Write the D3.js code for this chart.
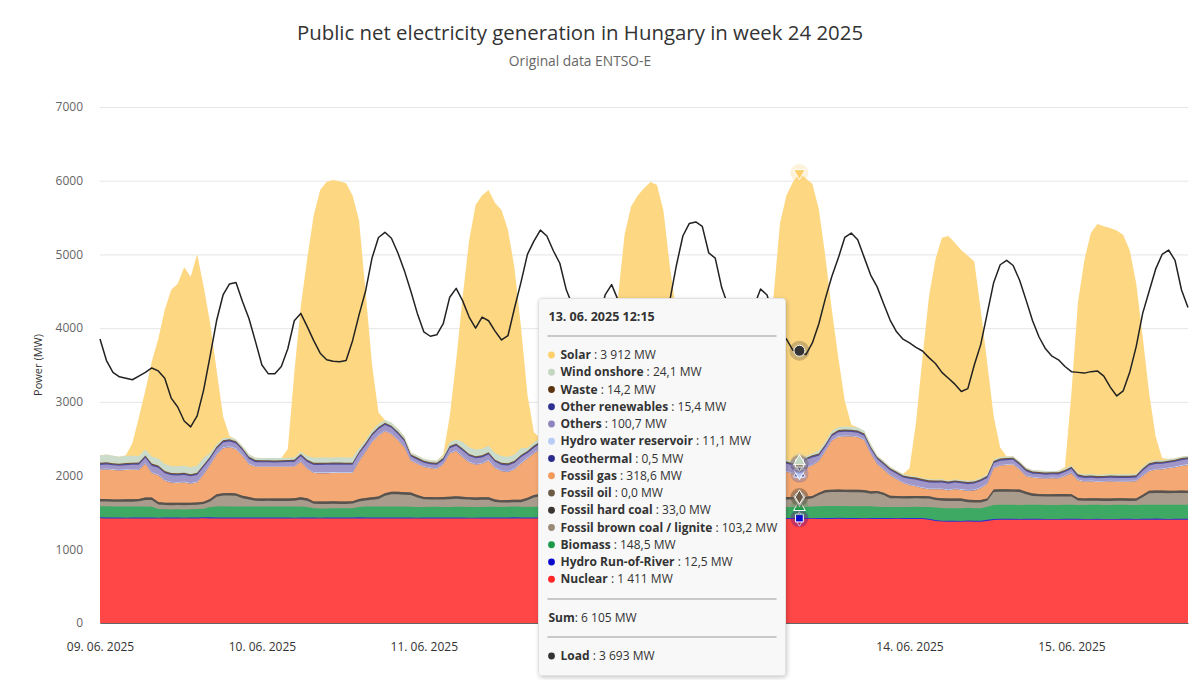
<!DOCTYPE html>
<html>
<head>
<meta charset="utf-8">
<script src="https://cdn.jsdelivr.net/npm/d3@7"></script>
<style>
  body { margin: 0; background: #fff; }
  svg text { font-family: "Open Sans", "DejaVu Sans", sans-serif; }
</style>
</head>
<body>
<div id="chart"></div>
<script>
// hourly values, 09.06.2025 00:00 .. 16.06.2025 00:00 (169 points), MW
var nuclear = [
  1420,1419,1418,1418,1417,1418,1419,1418,1417,1416,1418,1419,1418,1417,1418,1419,1420,1419,1418,1418,1417,1418,1419,1418,
  1418,1417,1418,1419,1418,1417,1416,1418,1419,1418,1417,1418,1419,1418,1417,1418,1419,1418,1417,1418,1419,1418,1417,1418,
  1418,1417,1418,1419,1418,1417,1418,1419,1418,1417,1416,1418,1419,1418,1417,1418,1419,1418,1417,1418,1418,1417,1416,1417,
  1416,1415,1416,1415,1414,1415,1416,1415,1414,1415,1416,1415,1414,1415,1416,1415,1414,1415,1416,1415,1414,1415,1414,1413,
  1413,1412,1413,1412,1411,1412,1413,1412,1411,1412,1412,1411,1411,1412,1413,1412,1411,1412,1413,1412,1411,1412,1413,1412,
  1412,1411,1412,1413,1412,1411,1412,1410,1400,1385,1376,1374,1375,1373,1376,1374,1375,1385,1398,1400,1401,1400,1399,1401,
  1400,1401,1400,1399,1400,1401,1402,1400,1399,1400,1401,1400,1399,1400,1401,1400,1399,1400,1401,1402,1400,1399,1400,1401,1400
];
var hydroRoR = [
  13,13,12,12,12,12,13,13,13,13,12,12,12,12,13,13,13,14,14,14,14,13,13,13,
  13,13,12,12,12,13,13,13,13,12,12,12,12,12,13,13,14,14,14,14,13,13,13,13,
  13,12,12,12,12,13,13,13,13,12,12,12,12,13,13,13,14,14,14,14,13,13,13,13,
  13,12,12,12,12,12,13,13,13,12,12,12,12,12,13,13,13,14,14,14,13,13,13,13,
  13,12,12,12,12,13,13,13,13,12,12,12,12.5,12,13,13,14,14,14,14,13,13,13,13,
  13,12,12,12,12,13,13,13,13,12,12,12,12,12,13,13,13,14,14,14,13,13,13,13,
  13,12,12,12,12,12,13,13,13,12,12,12,12,12,13,13,13,14,14,14,14,13,13,13,13
];
var biomass = [
  150,151,150,149,150,151,150,149,148,118,112,110,112,111,112,113,118,140,150,151,150,149,150,151,
  150,151,150,149,150,150,151,150,140,126,125,124,125,126,125,126,140,150,151,150,149,150,151,150,
  146,145,144,145,146,145,144,145,146,145,144,145,146,145,144,145,146,145,144,145,146,145,144,145,
  145,146,145,144,145,146,145,144,145,146,145,144,145,146,145,144,145,146,145,144,145,146,145,144,
  160,161,160,159,160,161,160,158,152,150,149,149,148.5,150,155,160,161,160,159,160,161,160,159,160,
  152,150,151,150,149,150,151,150,160,170,171,170,169,170,171,170,169,178,188,190,191,190,189,190,
  190,191,190,189,190,191,190,189,190,191,190,189,190,191,190,189,190,191,190,189,190,191,190,189,190
];
var brownCoal = [
  65,65,64,65,66,65,68,90,92,62,58,57,58,58,57,58,62,75,130,145,148,145,110,95,
  76,75,77,76,74,76,78,92,86,61,60,62,61,60,61,63,76,80,90,100,146,167,167,160,
  160,130,105,100,98,100,105,108,103,100,98,97,95,65,60,58,60,62,90,125,141,150,148,140,
  130,110,100,98,97,100,105,108,102,98,96,95,95,94,96,100,120,150,170,180,182,178,165,150,
  140,120,105,100,100,102,110,112,106,104,104,103,103.2,105,110,150,186,190,191,190,189,188,186,170,
  182,162,118,116,115,114,115,116,115,100,101,100,99,100,78,79,78,80,177,178,177,176,177,144,
  120,114,113,115,114,113,110,60,55,56,55,54,55,56,55,54,55,100,155,159,160,158,159,160,159
];
var hardCoal = [
  33,33,32,33,34,33,33,33,32,33,33,34,33,33,32,33,33,34,33,33,33,32,33,33,
  33,32,33,33,34,33,33,33,33,32,33,33,34,33,33,32,33,33,34,33,33,33,32,33,
  33,33,32,33,33,34,33,33,32,33,33,33,34,33,32,33,33,33,34,33,33,32,33,33,
  33,33,33,32,33,34,33,33,33,32,33,33,33,34,33,32,33,33,33,34,33,33,32,33,
  33,32,33,33,33,34,33,33,32,33,33,33,33.0,34,33,32,33,33,34,33,33,33,32,33,
  33,33,32,33,33,34,33,33,33,32,33,33,34,33,33,32,33,33,34,33,33,32,33,33,
  33,33,32,33,34,33,33,33,32,33,33,34,33,33,32,33,33,34,33,33,33,32,33,33,33
];
var fossilOil = [
  0,0,0,0,0,0,0,0,0,0,0,0,0,0,0,0,0,0,0,0,0,0,0,0,
  0,0,0,0,0,0,0,0,0,0,0,0,0,0,0,0,0,0,0,0,0,0,0,0,
  0,0,0,0,0,0,0,0,0,0,0,0,0,0,0,0,0,0,0,0,0,0,0,0,
  0,0,0,0,0,0,0,0,0,0,0,0,0,0,0,0,0,0,0,0,0,0,0,0,
  0,0,0,0,0,0,0,0,0,0,0,0,0,0,0,0,0,0,0,0,0,0,0,0,
  0,0,0,0,0,0,0,0,0,0,0,0,0,0,0,0,0,0,0,0,0,0,0,0,
  0,0,0,0,0,0,0,0,0,0,0,0,0,0,0,0,0,0,0,0,0,0,0,0,0
];
var fossilGas = [
  397,402,398,391,396,399,394,456,329,362,296,272,266,276,257,271,370,461,536,611,623,601,541,441,
  430,431,429,430,432,430,428,483,400,385,386,384,385,386,385,383,510,626,746,826,840,779,699,606,
  431,421,406,391,383,441,586,613,538,471,443,454,496,426,391,383,411,489,531,566,610,661,673,631,
  594,534,474,426,407,444,569,596,522,446,398,379,369,380,398,454,554,664,724,744,732,676,589,494,
  442,412,397,382,392,430,552,570,506,408,338,319,318.6,387,412,432,525,662,712,722,722,714,677,512,
  360,310,277,227,177,147,127,107,92,114,121,109,124,117,121,131,161,195,287,317,327,337,267,210,
  213,213,210,215,210,240,285,239,226,228,222,226,230,224,226,228,232,254,265,281,285,305,315,335,349
];
var geothermal = [
  0.5,0.5,0.5,0.5,0.5,0.5,0.5,0.5,0.5,0.5,0.5,0.5,0.5,0.5,0.5,0.5,0.5,0.5,0.5,0.5,0.5,0.5,0.5,0.5,
  0.5,0.5,0.5,0.5,0.5,0.5,0.5,0.5,0.5,0.5,0.5,0.5,0.5,0.5,0.5,0.5,0.5,0.5,0.5,0.5,0.5,0.5,0.5,0.5,
  0.5,0.5,0.5,0.5,0.5,0.5,0.5,0.5,0.5,0.5,0.5,0.5,0.5,0.5,0.5,0.5,0.5,0.5,0.5,0.5,0.5,0.5,0.5,0.5,
  0.5,0.5,0.5,0.5,0.5,0.5,0.5,0.5,0.5,0.5,0.5,0.5,0.5,0.5,0.5,0.5,0.5,0.5,0.5,0.5,0.5,0.5,0.5,0.5,
  0.5,0.5,0.5,0.5,0.5,0.5,0.5,0.5,0.5,0.5,0.5,0.5,0.5,0.5,0.5,0.5,0.5,0.5,0.5,0.5,0.5,0.5,0.5,0.5,
  0.5,0.5,0.5,0.5,0.5,0.5,0.5,0.5,0.5,0.5,0.5,0.5,0.5,0.5,0.5,0.5,0.5,0.5,0.5,0.5,0.5,0.5,0.5,0.5,
  0.5,0.5,0.5,0.5,0.5,0.5,0.5,0.5,0.5,0.5,0.5,0.5,0.5,0.5,0.5,0.5,0.5,0.5,0.5,0.5,0.5,0.5,0.5,0.5,0.5
];
var hydroReservoir = [
  11,11,10,10,10,11,11,12,12,11,11,11,11,11,11,11,12,12,13,13,12,11,11,11,
  11,10,10,10,10,11,11,12,12,11,11,11,11,11,11,11,12,12,13,13,12,11,11,11,
  11,10,10,10,10,11,11,12,12,11,11,11,11,11,11,11,12,12,13,13,12,11,11,11,
  11,10,10,10,10,11,11,12,12,11,11,11,11,11,11,11,12,12,13,13,12,11,11,11,
  11,10,10,10,10,11,11,12,12,11,11,11,11.1,11,11,11,12,12,13,13,12,11,11,11,
  11,10,10,10,10,11,11,11,11,11,11,11,11,11,11,11,12,12,12,12,12,11,11,11,
  11,10,10,10,10,11,11,11,11,11,11,11,11,11,11,11,12,12,12,12,12,11,11,11,11
];
var others = [
  55,56,55,54,55,56,58,70,88,90,91,90,92,90,89,90,88,70,65,64,65,66,65,64,
  50,51,50,49,50,52,55,60,80,98,100,101,100,102,100,99,90,76,75,74,75,76,75,74,
  45,46,45,44,45,48,60,62,74,75,76,75,74,75,76,75,74,75,60,61,60,59,60,61,
  50,51,50,49,50,52,65,66,80,81,80,79,80,81,80,79,78,60,61,60,59,60,61,60,
  55,56,55,54,55,56,70,72,98,100,101,100,100.7,99,98,60,50,51,50,49,50,51,50,52,
  60,61,60,62,65,75,80,81,80,79,80,81,80,79,80,81,80,70,55,56,55,54,55,56,
  45,46,45,44,45,46,45,40,41,40,39,40,41,40,39,40,41,60,65,66,65,64,65,66,65
];
var otherRenewables = [
  15,15,15,15,15,15,16,16,16,16,15,15,15,15,15,15,16,16,16,16,15,15,15,15,
  15,15,14,14,15,15,16,16,16,15,15,15,15,15,15,15,16,16,16,16,15,15,15,15,
  15,15,14,14,15,15,16,16,16,15,15,15,15,15,15,15,16,16,16,16,15,15,15,15,
  15,15,14,14,15,15,16,16,16,15,15,15,15,15,15,15,16,16,16,16,15,15,15,15,
  15,15,14,14,15,15,16,16,16,15,15,15,15.4,15,15,15,16,16,16,16,15,15,15,15,
  15,15,14,14,15,15,16,16,16,15,15,15,15,15,15,15,16,16,16,16,15,15,15,15,
  15,15,14,14,15,15,16,16,16,15,15,15,15,15,15,15,16,16,16,16,15,15,15,15,15
];
var waste = [
  14,14,14,14,14,14,14,15,15,14,14,14,14,14,14,14,14,15,15,15,14,14,14,14,
  14,14,14,13,14,14,14,15,15,14,14,14,14,14,14,14,14,15,15,15,14,14,14,14,
  14,14,14,13,14,14,14,15,15,14,14,14,14,14,14,14,14,15,15,15,14,14,14,14,
  14,14,14,13,14,14,14,15,15,14,14,14,14,14,14,14,14,15,15,15,14,14,14,14,
  14,14,14,13,14,14,14,15,15,14,14,14,14.2,14,14,14,14,15,15,15,14,14,14,14,
  14,14,14,13,14,14,14,15,15,14,14,14,14,14,14,14,14,15,15,15,14,14,14,14,
  14,14,14,13,14,14,14,15,15,14,14,14,14,14,14,14,14,15,15,15,14,14,14,14,14
];
var windOnshore = [
  100,105,100,95,100,95,90,80,95,95,95,95,95,95,95,95,95,50,30,25,25,25,30,35,
  30,28,30,32,30,30,30,30,50,70,72,70,68,70,72,70,45,40,41,40,39,40,41,40,
  27,28,27,26,27,28,50,52,88,90,92,90,88,90,92,90,88,90,40,41,40,39,40,41,
  30,31,30,29,30,31,45,46,60,61,60,59,60,61,60,59,60,35,36,35,34,35,36,35,
  30,31,30,29,30,31,35,36,26,25,24,25,24.1,25,26,40,41,40,39,40,41,40,39,40,
  20,21,20,19,18,15,16,15,14,15,16,15,14,15,16,15,14,18,20,21,20,19,20,21,
  20,21,20,19,20,21,20,19,20,21,20,19,20,21,20,19,20,21,20,19,20,21,20,19,20
];
var solar = [
  0,0,0,0,5,170,520,800,1290,1625,2095,2390,2475,2695,2585,2870,2327,1765,1015,300,20,0,0,0,
  0,0,0,0,0,120,1150,1971,2680,3290,3628,3741,3765,3745,3720,3555,3095,2025,895,155,0,0,0,0,
  0,0,0,0,0,20,350,1074,1972,2810,3315,3440,3470,3392,3338,3077,2530,1654,725,140,0,0,0,0,
  0,0,0,0,0,20,350,1070,2017,2934,3370,3540,3650,3720,3660,3260,2374,1645,665,35,0,0,0,0,
  0,0,0,0,0,20,350,1070,2041,3140,3590,3791,3912,3767,3660,3272,2510,1645,945,350,30,0,0,0,
  0,0,0,0,0,100,727,1630,2477,2984,3276,3315,3210,3117,3054,2967,2281,1512,584,129,0,0,0,0,
  0,0,0,0,0,20,980,2310,2906,3270,3400,3368,3337,3306,3247,3040,2585,1768,930,325,30,0,0,0,0
];
var load = [
  3853,3560,3400,3340,3320,3300,3350,3400,3460,3420,3320,3050,2930,2740,2660,2810,3160,3620,4100,4450,4600,4620,4360,4130,
  3820,3500,3380,3380,3480,3720,4100,4200,4020,3830,3660,3570,3550,3545,3560,3830,4180,4500,4950,5230,5300,5220,5020,4780,
  4500,4200,3950,3890,3910,4060,4420,4540,4370,4150,4000,4150,4100,3960,3840,3900,4270,4620,5000,5180,5330,5250,5050,4880,
  4520,4300,4150,4000,3950,4100,4450,4590,4380,4200,4050,3950,3850,3800,3850,4050,4380,4850,5250,5420,5440,5380,5020,4950,
  4550,4300,4100,4000,4050,4300,4530,4450,4150,3950,3850,3700,3693,3640,3800,4060,4400,4700,4950,5230,5290,5200,4960,4720,
  4560,4330,4110,3950,3850,3800,3740,3690,3600,3520,3400,3320,3240,3140,3180,3500,3780,4200,4620,4860,4920,4850,4650,4380,
  4100,3880,3720,3620,3570,3480,3410,3400,3390,3410,3420,3350,3200,3080,3150,3400,3750,4200,4500,4800,5000,5060,4920,4517,4280
];

var tickHours = [0, 25, 50, 75, 100, 125, 150];
var tickLabels = ["09. 06. 2025", "10. 06. 2025", "11. 06. 2025", "12. 06. 2025", "13. 06. 2025", "14. 06. 2025", "15. 06. 2025"];
var yTicks = [0, 1000, 2000, 3000, 4000, 5000, 6000, 7000];
var tooltipHour = 108;
var tooltipTime = "13. 06. 2025 12:15";

var series = [
  {key: "nuclear",         name: "Nuclear",                       color: "#ff2626", values: nuclear,         symbol: "diamond"},
  {key: "hydroRoR",        name: "Hydro Run-of-River",            color: "#0a0acc", values: hydroRoR,        symbol: "square"},
  {key: "biomass",         name: "Biomass",                       color: "#1c9a48", values: biomass,         symbol: "triangle"},
  {key: "brownCoal",       name: "Fossil brown coal / lignite",   color: "#9a8a78", values: brownCoal,       symbol: "triangle-down"},
  {key: "hardCoal",        name: "Fossil hard coal",              color: "#3a3530", values: hardCoal,        symbol: "circle"},
  {key: "fossilOil",       name: "Fossil oil",                    color: "#6b5b45", values: fossilOil,       symbol: "diamond"},
  {key: "fossilGas",       name: "Fossil gas",                    color: "#f29a5c", values: fossilGas,       symbol: "square"},
  {key: "geothermal",      name: "Geothermal",                    color: "#2b2b8c", values: geothermal,      symbol: "triangle"},
  {key: "hydroReservoir",  name: "Hydro water reservoir",         color: "#b8ccf4", values: hydroReservoir,  symbol: "triangle-down"},
  {key: "others",          name: "Others",                        color: "#8f84bd", values: others,          symbol: "circle"},
  {key: "otherRenewables", name: "Other renewables",              color: "#2e3192", values: otherRenewables, symbol: "diamond"},
  {key: "waste",           name: "Waste",                         color: "#5b3510", values: waste,           symbol: "square"},
  {key: "windOnshore",     name: "Wind onshore",                  color: "#c2d6c2", values: windOnshore,     symbol: "triangle"},
  {key: "solar",           name: "Solar",                         color: "#fdd06c", values: solar,           symbol: "triangle-down"}
];

var width = 1200, height = 680;
var margin = {top: 107, right: 12, bottom: 57, left: 100};
var plotW = width - margin.left - margin.right;
var plotH = height - margin.top - margin.bottom;
var tipBox = {x: 538.5, y: 298.5, w: 247, h: 377};

var hours = d3.range(load.length);
var table = hours.map(function(h) {
  var row = {h: h};
  series.forEach(function(s) { row[s.key] = s.values[h]; });
  return row;
});
var stacked = d3.stack().keys(series.map(function(s) { return s.key; }))(table);

var x = d3.scaleLinear().domain([0, 168]).range([margin.left, margin.left + plotW]);
var y = d3.scaleLinear().domain([0, 7000]).range([margin.top + plotH, margin.top]);

function fillOf(c) { return d3.interpolateRgb(c, "#ffffff")(0.15); }

var svg = d3.select("#chart").append("svg")
  .attr("width", width)
  .attr("height", height);

var defs = svg.append("defs");
var filt = defs.append("filter").attr("id", "shadow").attr("x", "-10%").attr("y", "-10%").attr("width", "130%").attr("height", "130%");
filt.append("feDropShadow").attr("dx", 1).attr("dy", 1.5).attr("stdDeviation", 2).attr("flood-color", "#000").attr("flood-opacity", 0.22);

// titles
svg.append("text")
  .attr("x", 580).attr("y", 40)
  .attr("text-anchor", "middle")
  .attr("font-size", 20.4)
  .attr("fill", "#333")
  .text("Public net electricity generation in Hungary in week 24 2025");
svg.append("text")
  .attr("x", 580).attr("y", 66)
  .attr("text-anchor", "middle")
  .attr("font-size", 13.8)
  .attr("fill", "#666")
  .text("Original data ENTSO-E");

// y axis + grid
var yAxis = svg.append("g")
  .attr("transform", "translate(" + margin.left + ",0)")
  .call(d3.axisLeft(y).tickValues(yTicks).tickSize(-plotW).tickPadding(17).tickFormat(d3.format("d")));
yAxis.select(".domain").remove();
yAxis.selectAll("line").attr("stroke", "#e6e6e6");
yAxis.selectAll("text").attr("fill", "#666").attr("font-size", 12);

svg.append("text")
  .attr("transform", "translate(42," + (margin.top + plotH / 2) + ") rotate(-90)")
  .attr("text-anchor", "middle")
  .attr("font-size", 11)
  .attr("fill", "#333")
  .text("Power (MW)");

// areas: each layer drawn from 0 up to its cumulative top, topmost first
var area = d3.area()
  .x(function(d) { return x(d.data.h); })
  .y0(y(0))
  .y1(function(d) { return y(d[1]); });

var areaG = svg.append("g");
for (var i = stacked.length - 1; i >= 0; i--) {
  areaG.append("path")
    .datum(stacked[i])
    .attr("fill", fillOf(series[i].color))
    .attr("d", area);
}

// load line
var line = d3.line()
  .x(function(d, i) { return x(i); })
  .y(function(d) { return y(d); });
svg.append("path")
  .datum(load)
  .attr("fill", "none")
  .attr("stroke", "#222")
  .attr("stroke-width", 1.5)
  .attr("stroke-linejoin", "round")
  .attr("d", line);

// x axis (labels lying under the tooltip are covered in the original)
var xAxis = svg.append("g")
  .attr("transform", "translate(0," + (margin.top + plotH) + ")")
  .call(d3.axisBottom(x).tickValues(tickHours).tickSize(0).tickSizeOuter(0).tickPadding(19)
    .tickFormat(function(d, i) { return tickLabels[i]; }));
xAxis.select(".domain").attr("stroke", "#666");
xAxis.selectAll("text").attr("fill", "#333").attr("font-size", 12);
xAxis.selectAll(".tick").filter(function(d) {
  return x(d) > tipBox.x && x(d) < tipBox.x + tipBox.w;
}).remove();

// hover markers
var symbolTypes = {
  "circle": d3.symbolCircle, "diamond": d3.symbolDiamond, "square": d3.symbolSquare,
  "triangle": d3.symbolTriangle, "triangle-down": d3.symbolTriangle
};
var mx = x(tooltipHour);
var markG = svg.append("g");
series.forEach(function(s, i) {
  var top = stacked[i][tooltipHour][1];
  var g = markG.append("g").attr("transform", "translate(" + mx + "," + y(top) + ")");
  g.append("circle").attr("r", 9).attr("fill", s.color).attr("opacity", 0.25);
  g.append("path")
    .attr("d", d3.symbol().type(symbolTypes[s.symbol]).size(s.symbol === "circle" ? 70 : 60)())
    .attr("transform", s.symbol === "triangle-down" ? "rotate(180)" : null)
    .attr("fill", s.color)
    .attr("stroke", "#fff")
    .attr("stroke-width", 1);
});
var lg = markG.append("g").attr("transform", "translate(" + mx + "," + y(load[tooltipHour]) + ")");
lg.append("circle").attr("r", 10).attr("fill", "#333").attr("opacity", 0.25);
lg.append("circle").attr("r", 5.5).attr("fill", "#333").attr("stroke", "#fff").attr("stroke-width", 1);

// tooltip
function fmt(v) {
  if (v >= 1000) return d3.format(",.0f")(v).replace(/,/g, " ");
  return v.toFixed(1).replace(".", ",");
}
var tip = svg.append("g").attr("transform", "translate(" + tipBox.x + "," + tipBox.y + ")");
tip.append("rect")
  .attr("width", tipBox.w).attr("height", tipBox.h).attr("rx", 3)
  .attr("fill", "#f8f8f8")
  .attr("stroke", "#e2e2e2")
  .attr("filter", "url(#shadow)");
tip.append("text")
  .attr("x", 10).attr("y", 22.5)
  .attr("font-size", 12.5).attr("font-weight", "bold").attr("fill", "#333")
  .text(tooltipTime);
[37.5, 300.5, 338.5].forEach(function(ly) {
  tip.append("line").attr("x1", 9).attr("x2", 238).attr("y1", ly).attr("y2", ly)
    .attr("stroke", "#999").attr("stroke-width", 1);
});
var rowsOrder = series.slice().reverse();
var sum = 0;
rowsOrder.forEach(function(s, i) {
  var v = s.values[tooltipHour];
  sum += v;
  var ry = 56.5 + i * 17.25;
  tip.append("circle").attr("cx", 13).attr("cy", ry).attr("r", 3.4).attr("fill", s.color);
  var t = tip.append("text").attr("x", 22).attr("y", ry + 4.2).attr("font-size", 12).attr("fill", "#333");
  t.append("tspan").attr("font-weight", "bold").text(s.name);
  t.append("tspan").text(" : " + fmt(v) + " MW");
});
var st = tip.append("text").attr("x", 10).attr("y", 323.7).attr("font-size", 12).attr("fill", "#333");
st.append("tspan").attr("font-weight", "bold").text("Sum");
st.append("tspan").text(": " + fmt(sum) + " MW");
tip.append("circle").attr("cx", 13).attr("cy", 357.5).attr("r", 3.4).attr("fill", "#333");
var lt = tip.append("text").attr("x", 22).attr("y", 361.7).attr("font-size", 12).attr("fill", "#333");
lt.append("tspan").attr("font-weight", "bold").text("Load");
lt.append("tspan").text(" : " + fmt(load[tooltipHour]) + " MW");
</script>
</body>
</html>
